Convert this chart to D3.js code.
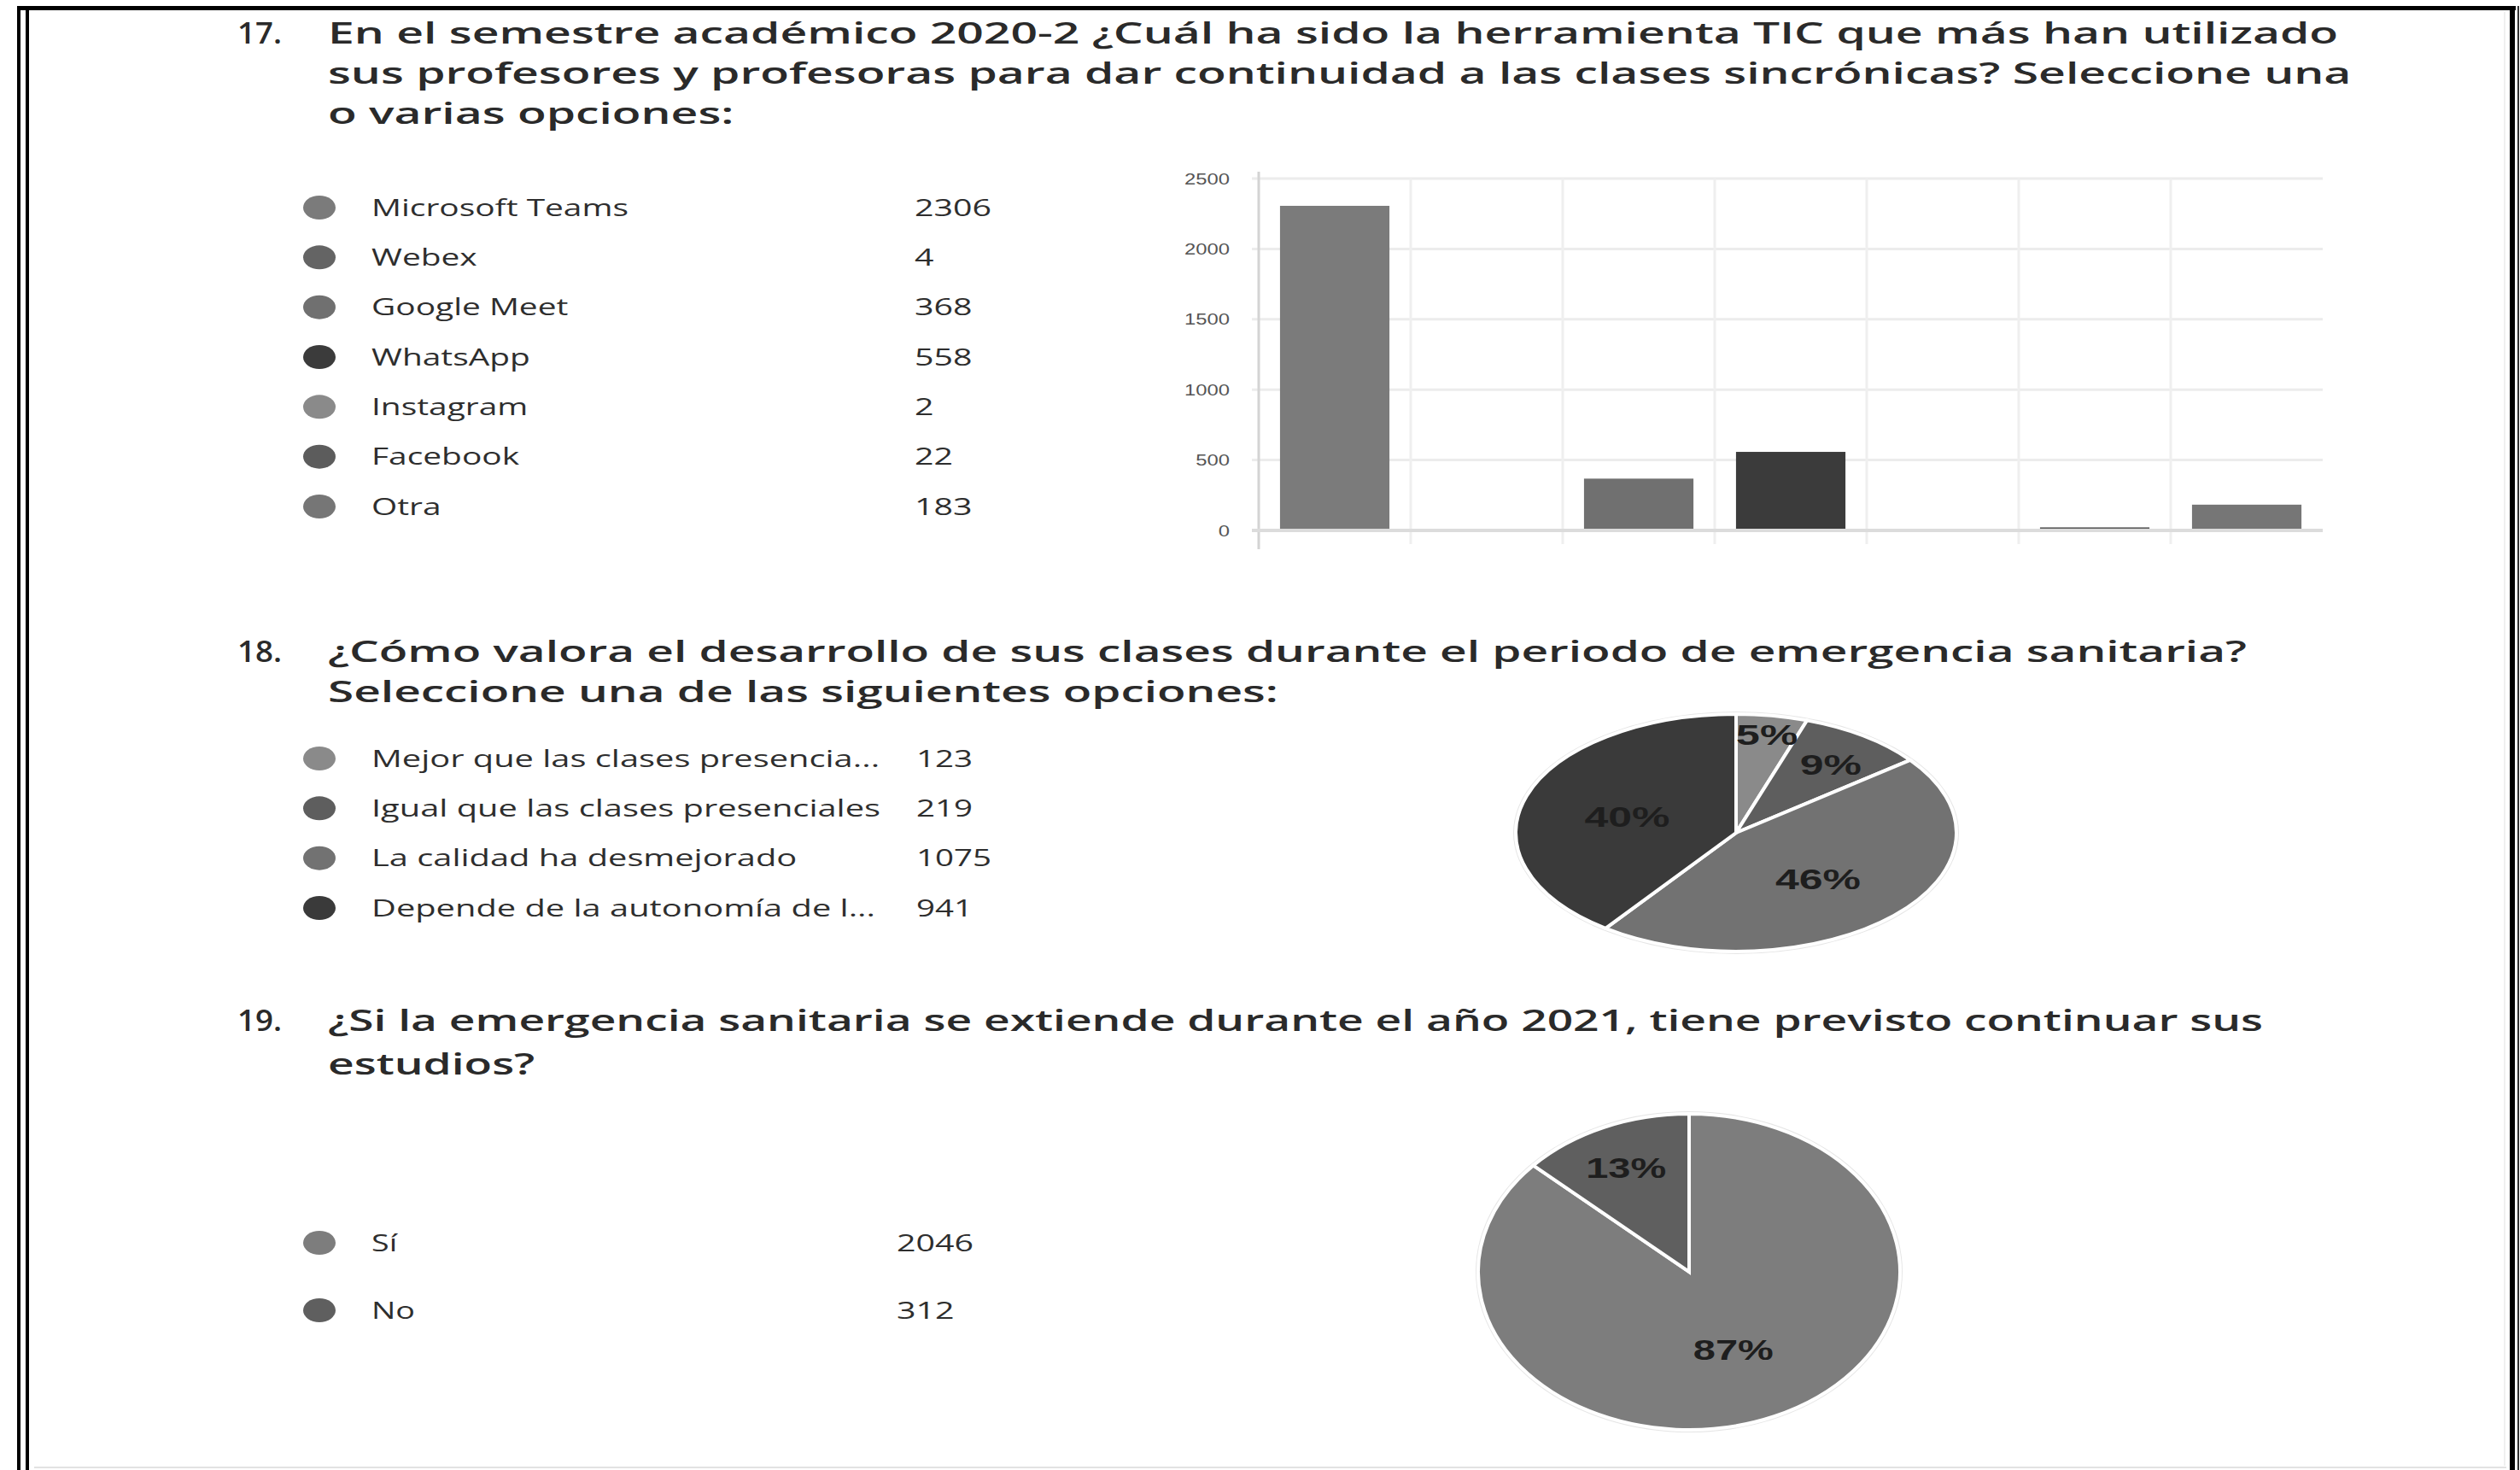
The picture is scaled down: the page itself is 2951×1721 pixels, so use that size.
<!DOCTYPE html>
<html>
<head>
<meta charset="utf-8">
<script src="https://cdn.jsdelivr.net/npm/d3@7"></script>
<style>
  html, body { margin: 0; padding: 0; background: #fff; }
  svg { display: block; }
</style>
</head>
<body>
<svg id="chart" width="2951" height="1721"></svg>
<script>
// ---------------- DATA ----------------
const q17Number = "17.";
const q17Title = [
  "En el semestre académico 2020-2 ¿Cuál ha sido la herramienta TIC que más han utilizado",
  "sus profesores y profesoras para dar continuidad a las clases sincrónicas? Seleccione una",
  "o varias opciones:"
];
const q17Categories = ["Microsoft Teams", "Webex", "Google Meet", "WhatsApp", "Instagram", "Facebook", "Otra"];
const q17Values = [2306, 4, 368, 558, 2, 22, 183];
const q17Ticks = [0, 500, 1000, 1500, 2000, 2500];

const q18Number = "18.";
const q18Title = [
  "¿Cómo valora el desarrollo de sus clases durante el periodo de emergencia sanitaria?",
  "Seleccione una de las siguientes opciones:"
];
const q18Categories = ["Mejor que las clases presencia...", "Igual que las clases presenciales", "La calidad ha desmejorado", "Depende de la autonomía de l..."];
const q18Values = [123, 219, 1075, 941];

const q19Number = "19.";
const q19Title = [
  "¿Si la emergencia sanitaria se extiende durante el año 2021, tiene previsto continuar sus",
  "estudios?"
];
const q19Categories = ["Sí", "No"];
const q19Values = [2046, 312];

// ---------------- STYLES ----------------
const q17Colors = ["#7b7b7b", "#646464", "#707070", "#3b3b3b", "#8a8a8a", "#5c5c5c", "#767676"];
const q18Colors = ["#8a8a8a", "#5e5e5e", "#727272", "#3a3a3a"];
const q19Colors = ["#7d7d7d", "#5f5f5f"];
const titleFont = "'Open Sans', 'Noto Sans', sans-serif";
const legendFont = "'Open Sans', 'Noto Sans', sans-serif";
const pieFont = "'Liberation Sans', Arial, sans-serif";

const svg = d3.select("#chart");

// helpers
function stretchBlock(sel, k) {
  sel.each(function () {
    const w = this.getComputedTextLength();
    d3.select(this).attr("textLength", w * k).attr("lengthAdjust", "spacingAndGlyphs");
  });
}
function blockFactor(sel, targetWidth) {
  const w = sel.node().getComputedTextLength();
  return targetWidth / w;
}

// ---------------- FRAME ----------------
svg.append("rect").attr("x", 0).attr("y", 0).attr("width", 2951).attr("height", 1721).attr("fill", "#fff");
svg.append("rect").attr("x", 20).attr("y", 7).attr("width", 4).attr("height", 1714).attr("fill", "#000");
svg.append("rect").attr("x", 30).attr("y", 10).attr("width", 4).attr("height", 1711).attr("fill", "#000");
svg.append("rect").attr("x", 20).attr("y", 7).attr("width", 2926).attr("height", 5).attr("fill", "#000");
svg.append("rect").attr("x", 2939).attr("y", 7).attr("width", 6).attr("height", 1714).attr("fill", "#000");
svg.append("rect").attr("x", 2948).attr("y", 7).attr("width", 2).attr("height", 1714).attr("fill", "#333");
svg.append("line").attr("x1", 40).attr("x2", 2935).attr("y1", 1718).attr("y2", 1718).attr("stroke", "#e2e2e2").attr("stroke-width", 2);
svg.append("line").attr("x1", 2933).attr("x2", 2933).attr("y1", 14).attr("y2", 1716).attr("stroke", "#f0f0f0").attr("stroke-width", 2);

// ---------------- TITLES ----------------
function drawTitle(number, lines, baselines, firstLineWidth) {
  const g = svg.append("g").attr("font-family", titleFont).attr("font-size", 34)
    .attr("font-weight", 600).attr("fill", "#2a2a2a");
  const n = g.append("text").attr("x", 278).attr("y", baselines[0]).text(number);
  n.attr("textLength", 52).attr("lengthAdjust", "spacingAndGlyphs");
  const ts = g.selectAll("text.line").data(lines).join("text").attr("class", "line")
    .attr("x", 384).attr("y", (d, i) => baselines[i]).text(d => d);
  const k = blockFactor(ts.filter((d, i) => i === 0), firstLineWidth);
  stretchBlock(ts, k);
}
drawTitle(q17Number, q17Title, [51, 98, 145], 2354);
drawTitle(q18Number, q18Title, [775, 822], 2247);
drawTitle(q19Number, q19Title, [1207, 1258], 2266);

// ---------------- LEGENDS ----------------
function drawLegend(cats, vals, colors, rows, valueX, labelTarget, valueTarget, fontSize) {
  const g = svg.append("g").attr("font-family", legendFont).attr("font-size", fontSize).attr("fill", "#2e2e2e");
  const y = d3.scalePoint().domain(cats).range(rows);
  g.selectAll("ellipse").data(cats).join("ellipse")
    .attr("cx", 374).attr("cy", d => y(d)).attr("rx", 19).attr("ry", 14)
    .attr("fill", (d, i) => colors[i]);
  const labels = g.selectAll("text.lab").data(cats).join("text").attr("class", "lab")
    .attr("x", 435).attr("y", d => y(d)).attr("dy", "0.36em").text(d => d);
  const kL = blockFactor(labels.filter((d, i) => i === labelTarget[0]), labelTarget[1]);
  stretchBlock(labels, kL);
  const values = g.selectAll("text.val").data(vals).join("text").attr("class", "val")
    .attr("x", valueX).attr("y", (d, i) => y(cats[i])).attr("dy", "0.36em").text(d => d);
  const kV = blockFactor(values.filter((d, i) => i === valueTarget[0]), valueTarget[1]);
  stretchBlock(values, kV);
}
drawLegend(q17Categories, q17Values, q17Colors, [243, 593], 1071, [0, 301], [0, 90], 27);
drawLegend(q18Categories, q18Values, q18Colors, [888, 1063], 1073, [1, 596], [2, 88], 27);
drawLegend(q19Categories, q19Values, q19Colors, [1455, 1534], 1050, [1, 51], [0, 90], 27);

// ---------------- BAR CHART ----------------
(function () {
  const x0 = 1474, x1 = 2720, yTop = 209, yBase = 621;
  const x = d3.scaleBand().domain(q17Categories).range([x0, x1]).padding(0);
  const y = d3.scaleLinear().domain([0, 2500]).range([yBase, yTop]);
  const g = svg.append("g");

  g.selectAll("line.h").data(q17Ticks.filter(d => d > 0)).join("line").attr("class", "h")
    .attr("x1", x0 - 8).attr("x2", x1).attr("y1", d => y(d)).attr("y2", d => y(d))
    .attr("stroke", "#ececec").attr("stroke-width", 3);
  const bounds = q17Categories.map(c => x(c)).concat([x1]);
  g.selectAll("line.v").data(bounds.slice(1, -1)).join("line").attr("class", "v")
    .attr("x1", d => d).attr("x2", d => d).attr("y1", yTop).attr("y2", yBase + 16)
    .attr("stroke", "#efefef").attr("stroke-width", 3);
  g.append("line").attr("x1", x0).attr("x2", x0).attr("y1", yTop - 8).attr("y2", yBase + 22)
    .attr("stroke", "#d4d4d4").attr("stroke-width", 3);

  const bw = x.bandwidth() * 0.72;
  g.selectAll("rect.bar").data(q17Values).join("rect").attr("class", "bar")
    .attr("x", (d, i) => x(q17Categories[i]) + (x.bandwidth() - bw) / 2)
    .attr("width", bw)
    .attr("y", d => y(d))
    .attr("height", d => yBase - y(d))
    .attr("fill", (d, i) => q17Colors[i]);

  g.append("line").attr("x1", x0 - 8).attr("x2", x1).attr("y1", y(0)).attr("y2", y(0))
    .attr("stroke", "#dcdcdc").attr("stroke-width", 4);

  const tl = g.selectAll("text.tick").data(q17Ticks).join("text").attr("class", "tick")
    .attr("x", 1440).attr("y", d => y(d)).attr("dy", "0.35em").attr("text-anchor", "end")
    .attr("font-family", "'Liberation Sans', Arial, sans-serif").attr("font-size", 19)
    .attr("fill", "#555").text(d => d);
  const k = blockFactor(tl.filter(d => d === 2500), 53);
  stretchBlock(tl, k);
})();

// ---------------- PIES ----------------
function drawPie(values, colors, cx, cy, rx, ry, pctTarget) {
  const R = 100;
  const total = d3.sum(values);
  const pie = d3.pie().sort(null).value(d => d);
  const arcs = pie(values);
  const arc = d3.arc().innerRadius(0).outerRadius(R);
  svg.append("ellipse").attr("cx", cx).attr("cy", cy).attr("rx", rx + 3).attr("ry", ry + 3)
    .attr("fill", "#e6e6e6");
  const g = svg.append("g").attr("transform", `translate(${cx},${cy}) scale(${rx / R},${ry / R})`);
  g.selectAll("path").data(arcs).join("path")
    .attr("d", arc).attr("fill", (d, i) => colors[i])
    .attr("stroke", "#fff").attr("stroke-width", 4).attr("vector-effect", "non-scaling-stroke");
  const lg = svg.append("g").attr("font-family", pieFont).attr("font-weight", 700)
    .attr("font-size", 34).attr("fill", "#1e1e1e").attr("text-anchor", "middle");
  const labels = lg.selectAll("text").data(arcs).join("text")
    .attr("transform", d => {
      const frac = (d.endAngle - d.startAngle) / (2 * Math.PI);
      const rr = frac < 0.07 ? 0.86 * R : frac < 0.2 ? 0.74 * R : 0.52 * R;
      const c = d3.arc().innerRadius(rr).outerRadius(rr).centroid(d);
      return `translate(${cx + c[0] * rx / R},${cy + c[1] * ry / R})`;
    })
    .attr("dy", "0.45em")
    .text(d => Math.round(d.value / total * 100) + "%");
  const k = blockFactor(labels.filter((d, i) => i === pctTarget[0]), pctTarget[1]);
  stretchBlock(labels, k);
}
drawPie(q18Values, q18Colors, 2033, 975, 258, 139, [3, 100]);
drawPie(q19Values, q19Colors, 1978, 1489, 247, 185, [0, 94]);
</script>
</body>
</html>
